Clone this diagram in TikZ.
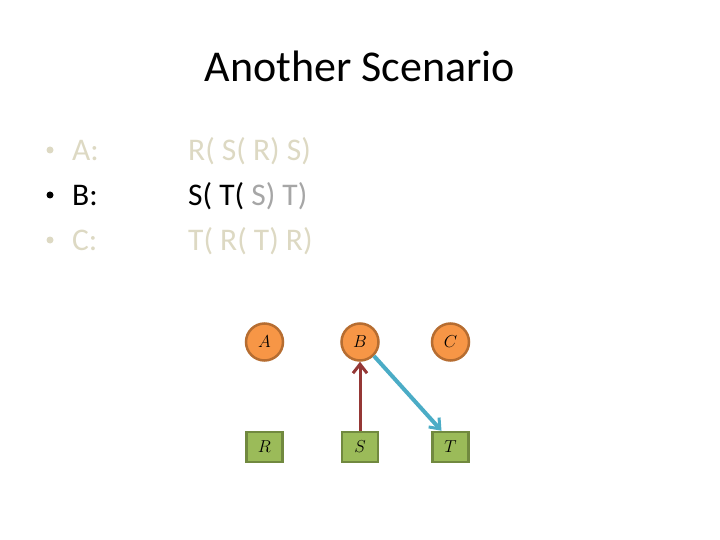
\documentclass[tikz,border=0pt]{standalone}
\usepackage{fontspec}
\setmainfont{Carlito}
\usetikzlibrary{arrows.meta}
\definecolor{ltgray}{RGB}{221,217,195}
\definecolor{mdgray}{RGB}{166,166,166}
\definecolor{orfill}{RGB}{247,150,70}
\definecolor{ordraw}{RGB}{182,109,49}
\definecolor{grfill}{RGB}{155,187,89}
\definecolor{grdraw}{RGB}{113,137,63}
\definecolor{redarr}{RGB}{149,55,53}
\definecolor{bluearr}{RGB}{75,172,198}
\tikzset{
  roundnode/.style={circle, fill=orfill, draw=ordraw, line width=2.5pt, minimum size=37pt, inner sep=0pt, font=\fontsize{16}{19}\selectfont},
  boxnode/.style={rectangle, fill=grfill, draw=grdraw, line width=2.5pt, minimum width=36pt, minimum height=30pt, inner sep=0pt, font=\fontsize{16}{19}\selectfont},
  bodytext/.style={anchor=base west, inner sep=0pt, font=\fontsize{31.5}{36}\selectfont},
  bul/.style={circle, inner sep=0pt, minimum size=7pt},
  arr/.style={-{Straight Barb[length=9pt,width=14pt,line width=3pt]}}
}
\begin{document}
\begin{tikzpicture}[x=1pt,y=-1pt]
\useasboundingbox (0,0) rectangle (720,540);
\node[anchor=base, inner sep=0pt, font=\fontsize{44}{48}\selectfont] (title) at (360,82) {Another Scenario};
% bullets
\node[bul, fill=ltgray] (ua) at (50,150) {};
\node[bul, fill=black] (ub) at (50,195) {};
\node[bul, fill=ltgray] (uc) at (50,240) {};
\node[bodytext, text=ltgray] (ba) at (72,161) {A:};
\node[bodytext] (bb) at (72,206) {B:};
\node[bodytext, text=ltgray] (bc) at (72,251) {C:};
\node[bodytext, text=ltgray] (sa) at (188,161) {R( S( R) S)};
\node[bodytext] (sb) at (188,206) {S( T( \textcolor{mdgray}{S) T)}};
\node[bodytext, text=ltgray] (sc) at (188,251) {T( R( T) R)};
% graph
\node[roundnode] (A) at (264.5,342) {$A$};
\node[roundnode] (B) at (360,342) {$B$};
\node[roundnode] (C) at (450.5,342) {$C$};
\node[boxnode] (R) at (264.5,447) {$R$};
\node[boxnode] (S) at (360,447) {$S$};
\node[boxnode] (T) at (450.5,447) {$T$};
\draw[arr, redarr, line width=3pt] (S.north) -- (B.south);
\draw[arr, bluearr, line width=4pt] (B.south east) -- ([xshift=-9pt]T.north);
\end{tikzpicture}
\end{document}
